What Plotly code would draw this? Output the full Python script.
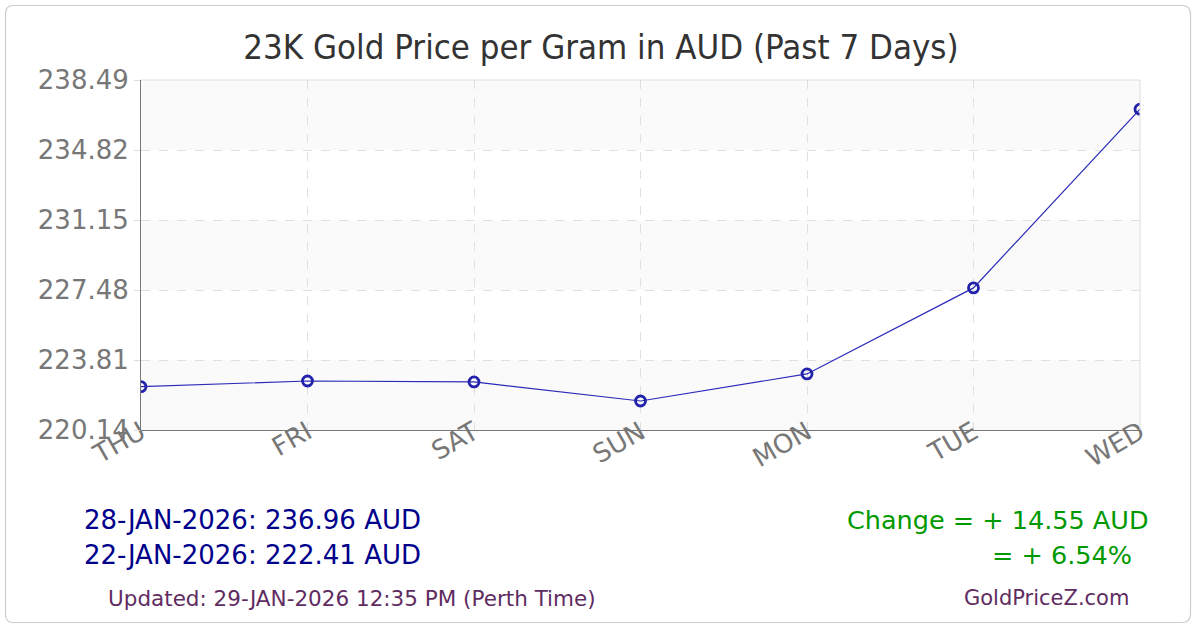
import plotly.graph_objects as go

days = ["THU", "FRI", "SAT", "SUN", "MON", "TUE", "WED"]
prices = [222.41, 222.71, 222.66, 221.66, 223.08, 227.59, 236.96]
y_ticks = [220.14, 223.81, 227.48, 231.15, 234.82, 238.49]
first_date = "22-JAN-2026"
last_date = "28-JAN-2026"
updated = "Updated: 29-JAN-2026 12:35 PM (Perth Time)"
currency = "AUD"

L, R, T, B = 141, 60, 80, 200
W, H = 1200, 630
pw, ph = W - L - R, H - T - B

def px(x):
    return (x - L) / pw

def py(y):
    return (H - B - y) / ph

change = prices[-1] - prices[0]
pct = change / prices[0] * 100

fig = go.Figure()
fig.add_trace(go.Scatter(
    x=days, y=prices, mode="lines+markers",
    line=dict(color="#2b2bb8", width=1.2),
    marker=dict(symbol="circle-open", size=10, color="#2222aa", line=dict(width=2.8, color="#2222aa")),
    hoverinfo="x+y", showlegend=False,
))

shapes = []
for i in range(len(y_ticks) - 1):
    if i % 2 == 0:
        shapes.append(dict(type="rect", xref="paper", yref="y", x0=0, x1=1,
                           y0=y_ticks[i], y1=y_ticks[i + 1], fillcolor="#fafafa",
                           line=dict(width=0), layer="below"))
shapes.append(dict(type="path", xref="paper", yref="paper",
                   path="M {a},{b} L {c},{b} Q {e},{b} {e},{f} L {e},{g} Q {e},{h} {c},{h} L {a},{h} Q {i},{h} {i},{g} L {i},{f} Q {i},{b} {a},{b} Z".format(
                       a=px(13), b=py(5.5), c=px(1182), e=px(1190.5), f=py(14), g=py(614), h=py(622.5), i=px(5.5)),
                   line=dict(color="#cccccc", width=1.2), fillcolor="rgba(0,0,0,0)", layer="below"))
shapes.append(dict(type="line", xref="paper", yref="paper", x0=0, x1=1, y0=1, y1=1,
                   line=dict(color="#dddddd", width=1)))
shapes.append(dict(type="line", xref="paper", yref="paper", x0=1, x1=1, y0=0, y1=1,
                   line=dict(color="#dddddd", width=1)))

font_main = "DejaVu Sans"
annotations = [
    dict(text=f"{last_date}: {prices[-1]:.2f} {currency}", x=px(82), y=py(520), xanchor="left", yanchor="middle",
         font=dict(size=26, color="#00008b", family=font_main)),
    dict(text=f"{first_date}: {prices[0]:.2f} {currency}", x=px(82), y=py(555), xanchor="left", yanchor="middle",
         font=dict(size=26, color="#00008b", family=font_main)),
    dict(text=f"Change = + {change:.2f} {currency}", x=px(1151), y=py(520), xanchor="right", yanchor="middle",
         font=dict(size=25.5, color="#009900", family=font_main)),
    dict(text=f"= + {pct:.2f}%", x=px(1134), y=py(555), xanchor="right", yanchor="middle",
         font=dict(size=25.5, color="#009900", family=font_main)),
    dict(text=updated, x=px(106), y=py(598), xanchor="left", yanchor="middle",
         font=dict(size=21.5, color="#5f2c62", family=font_main)),
    dict(text="GoldPriceZ.com", x=px(1131), y=py(598), xanchor="right", yanchor="middle",
         font=dict(size=21, color="#5f2c62", family=font_main)),
]
for a in annotations:
    a.update(xref="paper", yref="paper", showarrow=False)

fig.update_layout(
    width=W, height=H,
    margin=dict(l=L, r=R, t=T, b=B),
    paper_bgcolor="white", plot_bgcolor="white",
    title=dict(text="23K Gold Price per Gram in AUD (Past 7 Days)", x=601 / W, xref="container", xanchor="center",
               y=1 - 47 / H, yref="container", yanchor="middle",
               font=dict(size=34.5, color="#333333", family="DejaVu Sans Condensed, DejaVu Sans")),
    xaxis=dict(range=[0, len(days) - 1], tickangle=-30, showgrid=True, griddash="dash",
               gridcolor="#e0e0e0", gridwidth=1, showline=True, linecolor="#777777", linewidth=1,
               ticks="", ticklabelstandoff=-24,
               tickfont=dict(size=26, color="#777777", family=font_main), zeroline=False),
    yaxis=dict(range=[y_ticks[0], y_ticks[-1]], tickvals=y_ticks, ticktext=[f"{v:.2f}" for v in y_ticks],
               showgrid=True, griddash="dash", gridcolor="#e0e0e0", gridwidth=1,
               showline=True, linecolor="#777777", linewidth=1,
               ticks="outside", ticklen=6, tickcolor="#dddddd",
               tickfont=dict(size=26, color="#777777", family=font_main), zeroline=False),
    shapes=shapes, annotations=annotations,
)

fig.write_html("out.html", config={"displayModeBar": False},
               post_script="document.body.style.margin='0';document.body.style.padding='0';")
